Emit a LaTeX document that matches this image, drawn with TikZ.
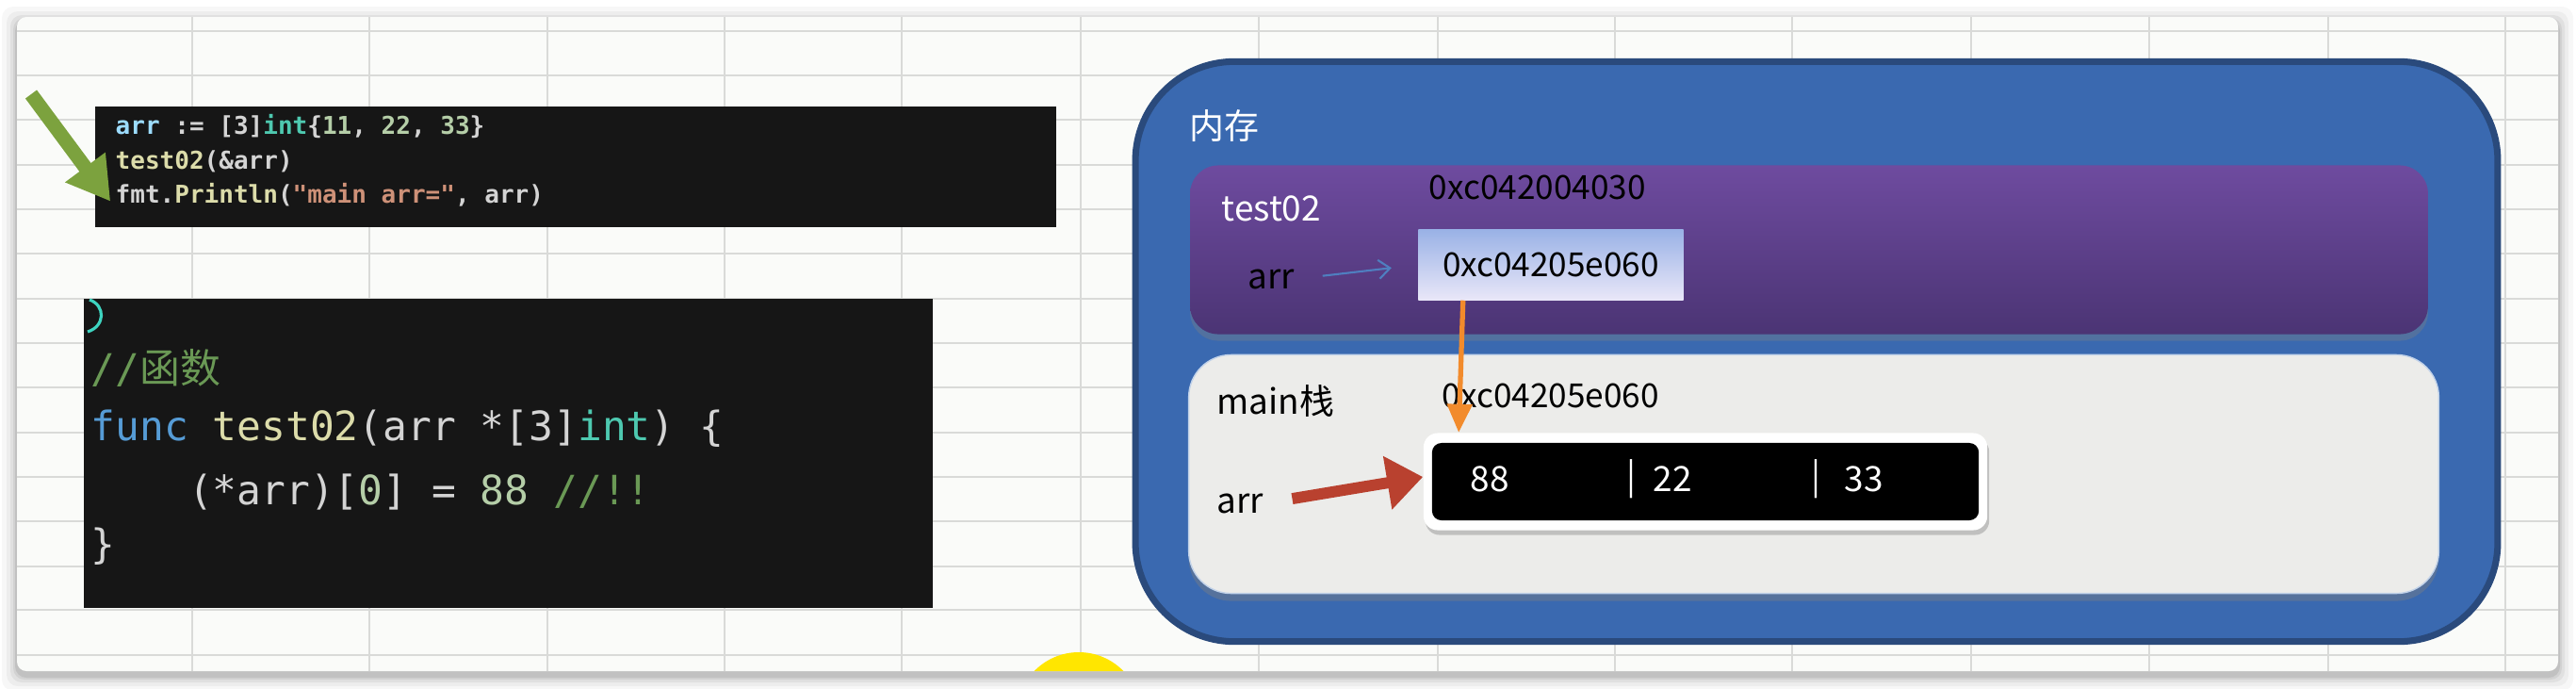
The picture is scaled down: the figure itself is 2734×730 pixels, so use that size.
\documentclass[tikz,border=0pt]{standalone}
\usepackage{fontspec}
\setmonofont{DejaVu Sans Mono}
\newfontfamily\cjk{Noto Sans CJK SC}
\usepackage{xcolor}
\definecolor{sheetbg}{HTML}{FAFBF9}
\definecolor{gridgray}{HTML}{D9DAD8}
\definecolor{memblue}{HTML}{3A69B0}
\definecolor{memedge}{HTML}{2A4A7C}
\definecolor{stacktop}{HTML}{6E4B9F}
\definecolor{stackbot}{HTML}{4B3474}
\definecolor{mainfill}{HTML}{ECECEA}
\definecolor{ptrtop}{HTML}{9AB2E6}
\definecolor{ptrbot}{HTML}{E9E7F8}
\definecolor{codebg}{HTML}{161616}
\definecolor{vsfg}{HTML}{D4D4D4}
\definecolor{vsblue}{HTML}{569CD6}
\definecolor{vsvar}{HTML}{9CDCFE}
\definecolor{vsfunc}{HTML}{DCDCAA}
\definecolor{vstype}{HTML}{4EC9B0}
\definecolor{vsnum}{HTML}{B5CEA8}
\definecolor{vsstr}{HTML}{CE9178}
\definecolor{vscomment}{HTML}{6A9955}
\definecolor{hintgreen}{HTML}{7CA23E}
\definecolor{ptrorange}{HTML}{F28B2C}
\definecolor{refred}{HTML}{B9412F}
\definecolor{linkblue}{HTML}{4F7FC0}
\definecolor{cursoryellow}{HTML}{FFE600}
\usetikzlibrary{arrows.meta, positioning, shadows}

\newcommand\smallcode{\ttfamily\bfseries\fontsize{7.4pt}{9pt}\selectfont}
\newcommand\bigcode{\ttfamily\fontsize{12.2pt}{14pt}\selectfont}

\tikzset{
  codebox/.style={fill=codebg, inner sep=0pt},
  codeline/.style={anchor=west, inner sep=0pt, text=vsfg},
  lbl/.style={anchor=west, inner sep=0pt, font=\cjk\fontsize{10.5pt}{12pt}\selectfont},
  addr/.style={anchor=west, inner sep=0pt, font=\cjk\fontsize{10pt}{12pt}\selectfont},
  cell/.style={inner sep=0pt, text=white, font=\cjk\fontsize{10.5pt}{12pt}\selectfont},
}

\begin{document}
\begin{tikzpicture}[x=0.01cm, y=-0.01cm]
\useasboundingbox (0,0) rectangle (2734,730);

% === Sheet background ===
\fill[white] (0,0) rectangle (2734,730);
\foreach \s/\o in {16/0.03, 11/0.04, 7/0.05, 4/0.06, 2/0.08}
  \fill[black, opacity=\o, rounded corners=0.12cm] (18-\s,18-\s+5) rectangle (2715+\s,712+\s+5);
\fill[sheetbg, rounded corners=0.1cm] (18,18) rectangle (2715,712);

\begin{scope}
\clip[rounded corners=0.1cm] (18,18) rectangle (2715,712);
\foreach \y in {33,80,127,175,222,269,317,364,411,459,506,553,601,647,695}
  \draw[gridgray, line width=0.6pt] (18,\y) -- (2715,\y);
\foreach \x in {204,392,581,769,957,1147,1336,1526,1714,1902,2092,2281,2471,2659}
  \draw[gridgray, line width=0.6pt] (\x,18) -- (\x,712);
% cursor highlight
\fill[cursoryellow] (1145,758) circle (66);
\end{scope}

% === Calling code ===
\node[codebox, minimum width=10.2cm, minimum height=1.28cm] (code1) at (611,177) {};
\node[codeline, font=\smallcode] (l1) at (122,134)
  {\textcolor{vsvar}{arr} := [3]\textcolor{vstype}{int}\{\textcolor{vsnum}{11}, \textcolor{vsnum}{22}, \textcolor{vsnum}{33}\}};
\node[codeline, font=\smallcode] (l2) at (122,171) {\textcolor{vsfunc}{test02}(\&arr)};
\node[codeline, font=\smallcode] (l3) at (122,207)
  {fmt.\textcolor{vsfunc}{Println}(\textcolor{vsstr}{"main arr="}, arr)};

\coordinate (hint) at (33,100);
\draw[hintgreen, line width=4.3pt, -{Triangle[length=0.45cm, width=0.5cm]}, shorten >=0.08cm] (hint) -- (l3.south west);

% === Function code ===
\node[codebox, minimum width=9.01cm, minimum height=3.28cm] (code2) at (539.5,481) {};
\draw[vstype!80!cyan, line width=0.9pt] (95,318) .. controls (112,324) and (112,346) .. (93,352);
\node[codeline, font=\bigcode] (k1) at (96,390) {\textcolor{vscomment}{//{\cjk 函数}}};
\node[codeline, font=\bigcode] (k2) at (96,455)
  {\textcolor{vsblue}{func} \textcolor{vsfunc}{test02}(arr *[3]\textcolor{vstype}{int}) \{};
\node[codeline, font=\bigcode] (k3) at (96,522)
  {\phantom{0000}(*arr)[\textcolor{vsnum}{0}] = \textcolor{vsnum}{88} \textcolor{vscomment}{//!!}};
\node[codeline, font=\bigcode] (k4) at (96,580) {\}};

% === Memory ===
\node[fill=memblue, draw=memedge, line width=2pt, rounded corners=1.05cm,
      minimum width=14.45cm, minimum height=6.15cm] (mem) at (1928,373) {};
\node[lbl, text=white] (memlbl) at (1262,133) {内存};

% test02 frame
\node[top color=stacktop, bottom color=stackbot, rounded corners=0.3cm,
      minimum width=13.13cm, minimum height=1.79cm,
      drop shadow={shadow xshift=0cm, shadow yshift=-0.07cm, opacity=0.35}] (stack) at (1920,265) {};
\node[lbl, text=white] (stacklbl) at (1296,221) {test02};
\node[addr] (stackaddr) at (1516,199) {0xc042004030};
\node[top color=ptrtop, bottom color=ptrbot, minimum width=2.81cm, minimum height=0.74cm,
      inner sep=0pt, font=\cjk\fontsize{10pt}{12pt}\selectfont] (ptr) at (1646,281) {0xc04205e060};
\node[lbl] (tarr) at (1324,296) {arr};
\draw[linkblue, line width=0.6pt, -{Straight Barb[length=0.12cm, width=0.2cm]},
      shorten <=0.29cm, shorten >=0.28cm] (tarr.east) -- (ptr.west);

% main frame
\node[fill=mainfill, draw=linkblue!35, rounded corners=0.45cm,
      minimum width=13.26cm, minimum height=2.53cm,
      drop shadow={shadow xshift=0cm, shadow yshift=-0.08cm, opacity=0.4}] (mainstk) at (1925,503) {};
\node[lbl] (mainlbl) at (1291,425) {main栈};
\node[addr] (mainaddr) at (1530,420) {0xc04205e060};
\node[lbl] (marr) at (1291,534) {arr};

% array cells
\node[fill=white, rounded corners=0.15cm, minimum width=5.98cm, minimum height=1.03cm,
      drop shadow={shadow xshift=0.02cm, shadow yshift=-0.05cm, opacity=0.4}] (arrout) at (1810,511) {};
\node[fill=black, rounded corners=0.1cm, minimum width=5.8cm, minimum height=0.82cm] (arrin) at (arrout) {};
\node[cell] (c0) at (1581,508) {88};
\node[cell] (s1) at (1731,508) {|};
\node[cell] (c1) at (1775,508) {22};
\node[cell] (s2) at (1927,508) {|};
\node[cell] (c2) at (1978,508) {33};

% pointers
\draw[ptrorange, line width=1.5pt, -{Triangle[length=0.3cm, width=0.26cm]}]
  ([xshift=0.48cm]ptr.south west) -- ([xshift=0.38cm]arrout.north west);
\draw[refred, line width=3.4pt, -{Triangle[length=0.38cm, width=0.55cm]}, shorten <=0.3cm]
  (marr.east) -- ([yshift=0.05cm]arrout.west);

\end{tikzpicture}
\end{document}
